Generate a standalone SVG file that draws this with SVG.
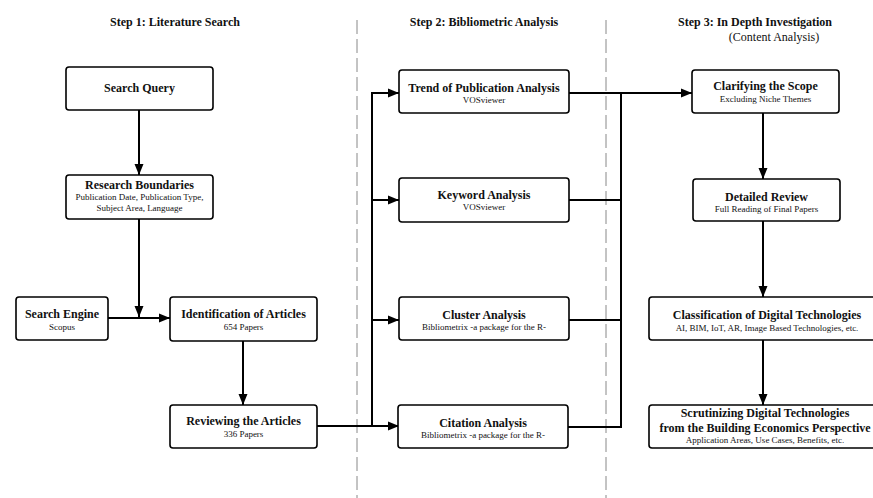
<svg xmlns="http://www.w3.org/2000/svg" width="873" height="498" viewBox="0 0 873 498">
<style>
.box{fill:#fff;stroke:#000;stroke-width:1.6}
.t{font-family:"Liberation Serif","Times New Roman",serif;font-weight:bold;font-size:12px;text-anchor:middle;fill:#111}
.s{font-family:"Liberation Serif","Times New Roman",serif;font-size:9px;text-anchor:middle;fill:#111}
.h{font-family:"Liberation Serif","Times New Roman",serif;font-weight:bold;font-size:12px;text-anchor:middle;fill:#111}
.hs{font-family:"Liberation Serif","Times New Roman",serif;font-size:12px;text-anchor:middle;fill:#111}
.c{fill:none;stroke:#000;stroke-width:2}
.d{stroke:#888;stroke-width:1;stroke-dasharray:14 5}
</style>
<defs>
<marker id="ah" markerUnits="userSpaceOnUse" markerWidth="12" markerHeight="12" viewBox="0 0 12 12" refX="11" refY="6" orient="auto">
<path d="M0,1.5 L11,6 L0,10.5 Z" fill="#000"/>
</marker>
</defs>
<rect width="873" height="498" fill="#fff"/>
<g id="dividers">
<line class="d" x1="357" y1="20" x2="357" y2="498"/>
<line class="d" x1="606" y1="20" x2="606" y2="498"/>
</g>
<g id="headers">
<text class="h" x="175" y="26">Step 1: Literature Search</text>
<text class="h" x="484" y="26">Step 2: Bibliometric Analysis</text>
<text class="h" x="755" y="26">Step 3: In Depth Investigation</text>
<text class="hs" x="774" y="41">(Content Analysis)</text>
</g>
<g id="connectors">
<line class="c" x1="139" y1="110" x2="139" y2="175" marker-end="url(#ah)"/>
<line class="c" x1="139" y1="219" x2="139" y2="317" marker-end="url(#ah)"/>
<line class="c" x1="108" y1="318" x2="170" y2="318" marker-end="url(#ah)"/>
<line class="c" x1="243" y1="341" x2="243" y2="405" marker-end="url(#ah)"/>
<line class="c" x1="317" y1="426" x2="399" y2="426" marker-end="url(#ah)"/>
<line class="c" x1="372" y1="93" x2="372" y2="427"/>
<line class="c" x1="371" y1="93" x2="399" y2="93" marker-end="url(#ah)"/>
<line class="c" x1="371" y1="200" x2="399" y2="200" marker-end="url(#ah)"/>
<line class="c" x1="371" y1="320" x2="399" y2="320" marker-end="url(#ah)"/>
<line class="c" x1="569" y1="93" x2="692" y2="93" marker-end="url(#ah)"/>
<line class="c" x1="569" y1="200" x2="622" y2="200"/>
<line class="c" x1="569" y1="320" x2="622" y2="320"/>
<line class="c" x1="568" y1="427" x2="622" y2="427"/>
<line class="c" x1="621" y1="92" x2="621" y2="428"/>
<line class="c" x1="763" y1="113" x2="763" y2="179" marker-end="url(#ah)"/>
<line class="c" x1="763" y1="221" x2="763" y2="297" marker-end="url(#ah)"/>
<line class="c" x1="763" y1="340" x2="763" y2="405" marker-end="url(#ah)"/>
</g>
<g id="search-query">
<rect class="box" x="66" y="67" width="147" height="43" rx="3"/>
<text class="t" x="139.5" y="92">Search Query</text>
</g>
<g id="research-boundaries">
<rect class="box" x="66" y="175" width="147" height="44" rx="3"/>
<text class="t" x="139.5" y="189">Research Boundaries</text>
<text class="s" x="139.5" y="200">Publication Date, Publication Type,</text>
<text class="s" x="139.5" y="211">Subject Area, Language</text>
</g>
<g id="search-engine">
<rect class="box" x="16" y="297" width="92" height="43" rx="3"/>
<text class="t" x="62" y="318">Search Engine</text>
<text class="s" x="62" y="330">Scopus</text>
</g>
<g id="identification">
<rect class="box" x="170" y="297" width="147" height="44" rx="3"/>
<text class="t" x="243.5" y="318">Identification of Articles</text>
<text class="s" x="243.5" y="330">654 Papers</text>
</g>
<g id="reviewing">
<rect class="box" x="170" y="405" width="147" height="43" rx="3"/>
<text class="t" x="243.5" y="425">Reviewing the Articles</text>
<text class="s" x="243.5" y="437">336 Papers</text>
</g>
<g id="trend">
<rect class="box" x="399" y="70" width="170" height="43" rx="3"/>
<text class="t" x="484" y="92">Trend of Publication Analysis</text>
<text class="s" x="484" y="103">VOSviewer</text>
</g>
<g id="keyword">
<rect class="box" x="399" y="178" width="170" height="44" rx="3"/>
<text class="t" x="484" y="199">Keyword Analysis</text>
<text class="s" x="484" y="210">VOSviewer</text>
</g>
<g id="cluster">
<rect class="box" x="399" y="297" width="170" height="43" rx="3"/>
<text class="t" x="484" y="319">Cluster Analysis</text>
<text class="s" x="484" y="330">Bibliometrix -a package for the R-</text>
</g>
<g id="citation">
<rect class="box" x="398" y="405" width="170" height="43" rx="3"/>
<text class="t" x="483" y="427">Citation Analysis</text>
<text class="s" x="483" y="438">Bibliometrix -a package for the R-</text>
</g>
<g id="clarifying">
<rect class="box" x="692" y="70" width="147" height="43" rx="3"/>
<text class="t" x="765.5" y="90">Clarifying the Scope</text>
<text class="s" x="765.5" y="102">Excluding Niche Themes</text>
</g>
<g id="detailed-review">
<rect class="box" x="693" y="179" width="147" height="42" rx="3"/>
<text class="t" x="766.5" y="201">Detailed Review</text>
<text class="s" x="766.5" y="212">Full Reading of Final Papers</text>
</g>
<g id="classification">
<rect class="box" x="649" y="297" width="236" height="43" rx="3"/>
<text class="t" x="767" y="319">Classification of Digital Technologies</text>
<text class="s" x="767" y="331">AI, BIM, IoT, AR, Image Based Technologies, etc.</text>
</g>
<g id="scrutinizing">
<rect class="box" x="649" y="405" width="236" height="43" rx="3"/>
<text class="t" x="765" y="417">Scrutinizing Digital Technologies</text>
<text class="t" x="765" y="432">from the Building Economics Perspective</text>
<text class="s" x="765" y="443">Application Areas, Use Cases, Benefits, etc.</text>
</g>
</svg>
